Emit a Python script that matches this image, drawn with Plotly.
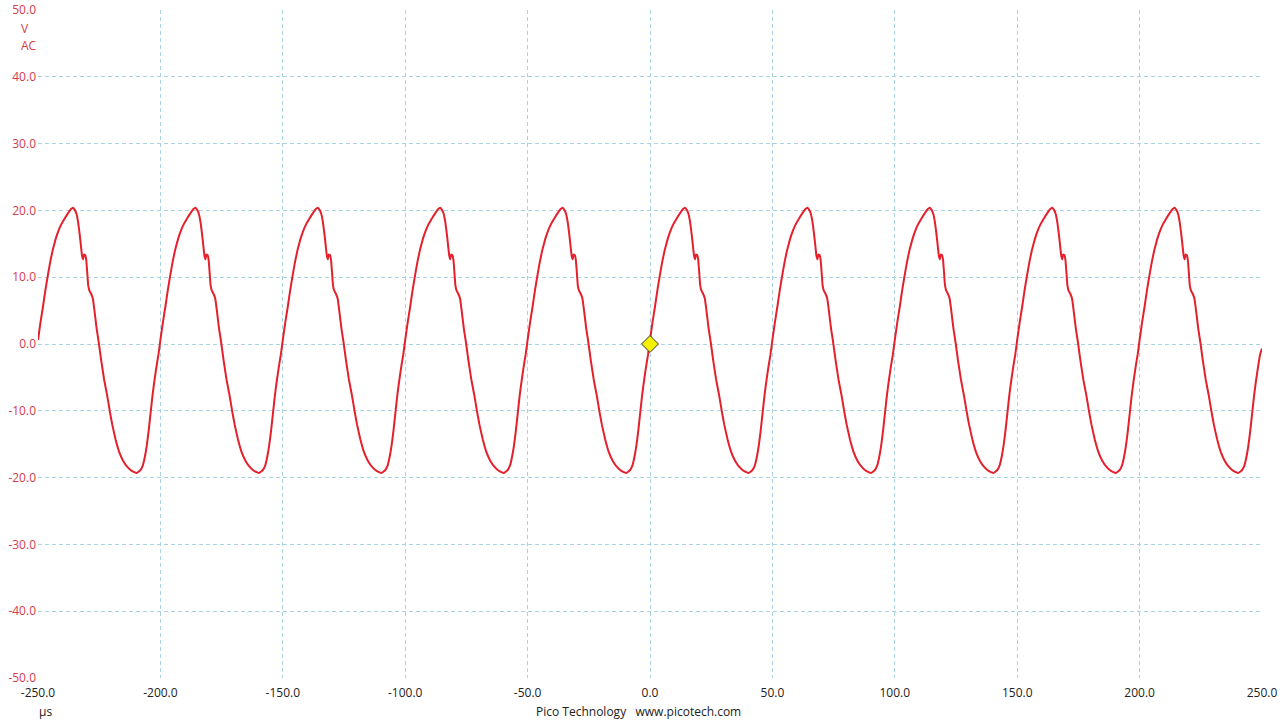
import plotly.graph_objects as go

# One cycle of the waveform (period 50 µs)
cycle_t = [0, 1, 2, 3, 3.8, 5, 6.1, 7.2, 8.2, 9.5, 10.9, 12.3, 13.5, 14.3, 15.0, 15.7,
           16.4, 17.0, 17.6, 18.0, 18.4, 18.8, 19.3, 19.7, 20.1, 20.5, 21.0, 21.6,
           22.4, 23.2, 24.0, 24.8, 25.8, 27, 28.3, 29.3, 30.3, 31.7, 33.1, 34.8, 36.5,
           38.3, 40.3, 41.8, 42.8, 43.6, 44.4, 45.2, 46, 46.8, 47.6, 48.4, 49.2]
cycle_v = [0.6, 3.2, 5.5, 8, 9.8, 12.3, 14.2, 15.7, 16.8, 17.9, 18.8, 19.6, 20.2, 20.4, 20.1, 19.5,
           18.2, 16.5, 14.5, 13.2, 12.7, 13.4, 13.3, 12.6, 10.8, 8.8, 8.0, 7.6,
           6.8, 4.6, 2.2, 0.3, -2.4, -5.3, -7.8, -10, -12.0, -14.3, -16.1, -17.5, -18.4,
           -19.0, -19.3, -18.9, -18.2, -17.0, -15.3, -13.0, -10.3, -7.6, -5.4, -3.4, -1.6]
period_starts = [-250, -200, -150, -100, -50, 0, 50, 100, 150, 200]
end_t = [250]
end_v = [-0.7]

x_ticks = [-250, -200, -150, -100, -50, 0, 50, 100, 150, 200, 250]
x_labels = ["-250.0", "-200.0", "-150.0", "-100.0", "-50.0", "0.0", "50.0", "100.0", "150.0", "200.0", "250.0"]
y_ticks = [-50, -40, -30, -20, -10, 0, 10, 20, 30, 40, 50]
y_labels = ["-50.0", "-40.0", "-30.0", "-20.0", "-10.0", "0.0", "10.0", "20.0", "30.0", "40.0", "50.0"]

marker_t = [0]
marker_v = [0]

ts, vs = [], []
for s in period_starts:
    for t, v in zip(cycle_t, cycle_v):
        ts.append(s + t)
        vs.append(v)
ts += end_t
vs += end_v

fig = go.Figure()
fig.add_trace(go.Scatter(x=ts, y=vs, mode="lines",
                         line=dict(color="#e3202c", width=2, shape="spline", smoothing=0.3),
                         hoverinfo="skip", showlegend=False))
fig.add_trace(go.Scatter(x=marker_t, y=marker_v, mode="markers",
                         marker=dict(symbol="diamond", size=13, color="#f5f000",
                                     line=dict(color="#333333", width=1)),
                         showlegend=False))

grid = dict(showgrid=True, gridcolor="#a9d3de", griddash="4px,3px", gridwidth=1,
            zeroline=False, showline=False, ticks="", automargin=False)
fig.update_xaxes(range=[-250, 250], tickvals=x_ticks, ticktext=x_labels,
                 tickfont=dict(family="Open Sans", size=12, color="#222222"),
                 ticklabelstandoff=6, **grid)
fig.update_yaxes(range=[-50, 50], tickvals=y_ticks, ticktext=y_labels,
                 tickfont=dict(family="Open Sans", size=12, color="#d8394c"),
                 ticklabelstandoff=1, **grid)

anns = [
    dict(text="V", x=25, y=28),
    dict(text="AC", x=29, y=46),
]
annotations = []
for a in anns:
    annotations.append(dict(text=a["text"], xref="paper", yref="paper",
                            x=(a["x"] - 38) / 1224, y=1 - (a["y"] - 10) / 668,
                            xanchor="center", yanchor="middle", showarrow=False,
                            font=dict(family="Open Sans", size=12, color="#d8394c")))
annotations.append(dict(text="µs", xref="paper", yref="paper", x=(45 - 38) / 1224,
                        y=-(712 - 678) / 668, xanchor="center", yanchor="middle",
                        showarrow=False, font=dict(family="Open Sans", size=12, color="#222222")))
annotations.append(dict(text="Pico Technology&nbsp;&nbsp;&nbsp;www.picotech.com", xref="paper", yref="paper",
                        x=(638 - 38) / 1224, y=-(712 - 678) / 668, xanchor="center",
                        yanchor="middle", showarrow=False,
                        font=dict(family="Open Sans", size=12, color="#222222")))

fig.update_layout(width=1280, height=720, margin=dict(l=38, r=18, t=10, b=42),
                  plot_bgcolor="white", paper_bgcolor="white", annotations=annotations)
fig.write_html("out.html", config={"displayModeBar": False},
               post_script="document.body.style.margin='0';document.body.style.overflow='hidden';")
